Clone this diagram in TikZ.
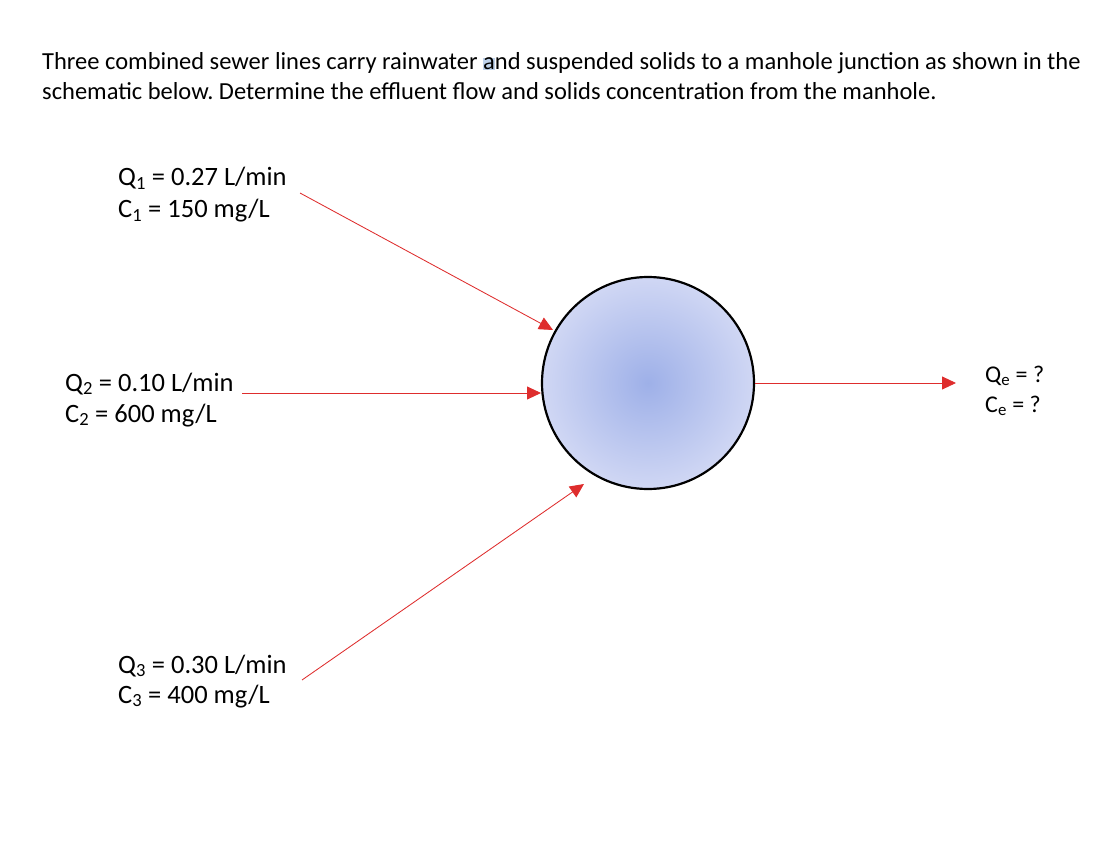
\documentclass[tikz,border=0pt]{standalone}
\usepackage{fontspec}
\setmainfont{Carlito}
\usetikzlibrary{arrows.meta}
\definecolor{flowred}{RGB}{222,45,45}
\definecolor{ballin}{RGB}{158,176,232}
\definecolor{ballout}{RGB}{208,215,244}
\definecolor{selblue}{RGB}{190,210,235}
\frenchspacing
\tikzset{
  txt/.style={anchor=base west, inner sep=0pt, font=\fontsize{24.5}{28}\selectfont},
  lbl/.style={anchor=base west, inner sep=0pt, font=\fontsize{26.5}{30}\selectfont},
  olbl/.style={anchor=base west, inner sep=0pt, font=\fontsize{24}{28}\selectfont},
  flow/.style={draw=flowred, line width=0.85pt, -{Triangle[length=14pt,width=13pt]}},
}
\begin{document}
\begin{tikzpicture}[x=1pt,y=-1pt]
\useasboundingbox (0,0) rectangle (1108,842);
\node[txt] (t1) at (42,70) {Three combined sewer lines carry rainwater {\setlength\fboxsep{0pt}\colorbox{selblue}{a}}nd suspended solids to a manhole junction as shown in the};
\node[txt] (t2) at (42,100) {schematic below. Determine the effluent flow and solids concentration from the manhole.};
\shade[inner color=ballin, outer color=ballout] (648,383) circle (106);
\node[circle, draw=black, line width=2.2pt, minimum size=212pt, inner sep=0pt] (mh) at (648,383) {};
\node[lbl] (q1) at (118,186) {Q\textsubscript{1} = 0.27 L/min};
\node[lbl] (c1) at (118,218) {C\textsubscript{1} = 150 mg/L};
\node[lbl] (q2) at (65,391) {Q\textsubscript{2} = 0.10 L/min};
\node[lbl] (c2) at (65,422) {C\textsubscript{2} = 600 mg/L};
\node[lbl] (q3) at (118,673) {Q\textsubscript{3} = 0.30 L/min};
\node[lbl] (c3) at (118,703) {C\textsubscript{3} = 400 mg/L};
\node[olbl] (qe) at (985,382) {Q\textsubscript{e} = ?};
\node[olbl] (ce) at (985,412) {C\textsubscript{e} = ?};
\coordinate (s1) at (300,193);
\coordinate (e1) at (553,330);
\coordinate (s2) at (242,393);
\coordinate (e2) at (541,393);
\coordinate (s3) at (302,680);
\coordinate (e3) at (584,484);
\coordinate (so) at (755,383);
\coordinate (eo) at (956,383);
\draw[flow] (s1) -- (e1);
\draw[flow] (s2) -- (e2);
\draw[flow] (s3) -- (e3);
\draw[flow] (so) -- (eo);
\end{tikzpicture}
\end{document}
